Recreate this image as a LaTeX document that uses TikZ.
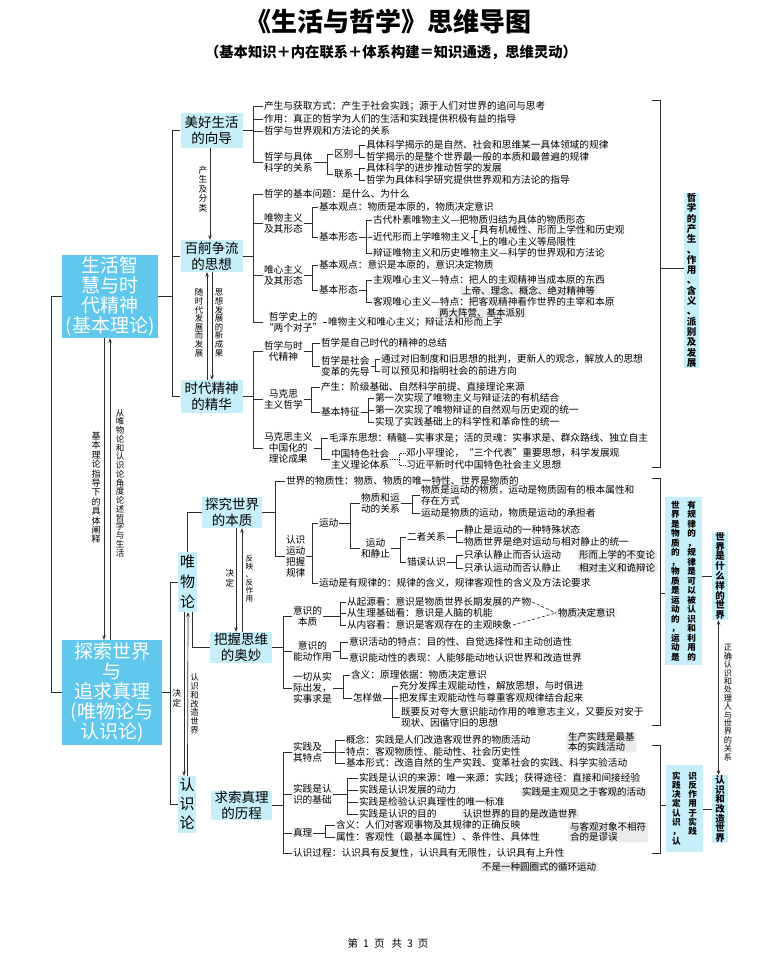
\documentclass[tikz,border=0pt]{standalone}
\usepackage{fontspec}
\setmainfont{Noto Sans CJK SC}
\usetikzlibrary{calc,arrows.meta}
\definecolor{lb}{RGB}{198,239,250}
\definecolor{mb}{RGB}{95,200,236}
\definecolor{ink}{RGB}{45,45,45}
\newcommand\fs{\fontsize{9.7}{10.6}\selectfont}
\makeatletter
\newcommand\vt[2]{\vtop{\offinterlineskip\@tfor\ch:=#2\do{\vbox to #1{\vss\hbox to 1em{\hss\vrule height .86em depth .14em width 0pt\ch\hss}\vss}}}}
\makeatother
\newcommand\fork[4][]{\foreach \cc in {#4}{\draw[ln,#1] let \p1=(#2.east) in (\p1) -- (#3pt,\y1) |- (\cc.west);}}
\begin{document}
\begin{tikzpicture}[x=1pt,y=-1pt,
 ln/.style={draw=ink,line width=0.7pt},
 arr/.style={ln,-{Stealth[length=4.5pt,width=3.5pt]}},
 arrr/.style={ln,{Stealth[length=4.5pt,width=3.5pt]}-{Stealth[length=4.5pt,width=3.5pt]}},
 tx/.style={anchor=west,inner sep=0.8pt,font=\fs},
 ml/.style={tx,align=center,font=\fontsize{9.7}{11}\selectfont},
 nt/.style={anchor=west,fill=gray!15,rounded corners=2pt,inner xsep=2pt,inner ysep=0.6pt,align=left,font=\fontsize{9.5}{10.5}\selectfont},
 bx/.style={fill=lb,align=center,font=\fontsize{13.5}{15.5}\selectfont,inner sep=0pt,minimum width=62pt,minimum height=32pt},
 bb/.style={fill=mb,text=white,align=center,font=\fontsize{19}{20}\selectfont,inner sep=0pt},
 vb/.style={fill=lb,inner sep=0pt},
 rvb/.style={vb,font=\fontsize{9.5}{9.5}\selectfont\bfseries},
 vlab/.style={inner sep=0pt,font=\fontsize{8.6}{9}\selectfont}]
\useasboundingbox (0,0) rectangle (776,966);
\fill[white] (0,0) rectangle (776,966);

% titles
\node[font=\fontsize{26}{28}\selectfont\bfseries] (title) at (388,22) {《生活与哲学》思维导图};
\node[font=\fontsize{14.3}{16}\selectfont\bfseries] (sub) at (391,52) {（基本知识＋内在联系＋体系构建＝知识通透，思维灵动）};
\node[font=\fontsize{10.5}{12}\selectfont] (foot) at (388,943) {第\hspace{5pt}1\hspace{5pt}页\hspace{7pt}共\hspace{5pt}3\hspace{5pt}页};

% big boxes
\node[bb,minimum width=96pt,minimum height=83pt] (L1) at (110,296.5) {生活智\\慧与时\\代精神\\(基本理论)};
\node[bb,minimum width=100pt,minimum height=105pt] (L2) at (112,692.5) {探索世界\\与\\追求真理\\(唯物论与\\认识论)};

% level-2 boxes
\node[bx,minimum height=35pt] (A) at (211.5,130.5) {美好生活\\的向导};
\node[bx] (B) at (211.5,256) {百舸争流\\的思想};
\node[bx,minimum height=33pt] (C) at (211.5,396.5) {时代精神\\的精华};
\node[bx,minimum width=60pt,minimum height=31pt] (D) at (232,512.5) {探究世界\\的本质};
\node[bx,minimum height=31pt] (E) at (241,647.5) {把握思维\\的奥妙};
\node[bx,minimum width=61pt,minimum height=29pt] (F) at (241.5,805.5) {求索真理\\的历程};
\node[vb,font=\fontsize{15}{16}\selectfont,minimum width=19pt,minimum height=60pt] (W) at (187.5,582) {\vt{20pt}{唯物论}};
\node[vb,font=\fontsize{15}{16}\selectfont,minimum width=18pt,minimum height=57pt] (R) at (187,804.5) {\vt{19pt}{认识论}};

% left connections
\fork{L1}{172}{A,B,C}
\fork{L2}{170}{W,R}
\draw[ln] (L1.west) -- ++(-10,0) |- (L2.west);
\draw[arr] ([xshift=-6pt]L1.south) -- ([xshift=-8pt]L2.north);
\draw[arr] ([xshift=-2pt]L2.north) -- ([xshift=0pt]L1.south);
\node[vlab,font=\fontsize{9}{9}\selectfont] (lb1) at (96,488) {\vt{9.4pt}{基本理论指导下的具体阐释}};
\node[vlab,font=\fontsize{8.5}{9}\selectfont] (lb2) at (120,483) {\vt{8.75pt}{从唯物论和认识论角度论述哲学与生活}};

\draw[arr] ([xshift=-1.5pt]A.south) -- ([xshift=-1.5pt]B.north);
\node[vlab] (lb3) at (203,189) {\vt{9.5pt}{产生及分类}};
\draw[arr] ([xshift=-4.5pt]C.north) -- ([xshift=-4.5pt]B.south);
\draw[arr] ([xshift=0.5pt]B.south) -- ([xshift=0.5pt]C.north);
\node[vlab,font=\fontsize{8.4}{9}\selectfont] (lb4) at (199,323) {\vt{8.6pt}{随时代发展而发展}};
\node[vlab,font=\fontsize{8.4}{9}\selectfont] (lb5) at (219,323) {\vt{8.6pt}{思想发展的新成果}};

\draw[arr] ([xshift=-3.5pt]W.south) -- ([xshift=-3pt]R.north);
\draw[arr] ([xshift=0.5pt]R.north) -- ([xshift=0.5pt]W.south);
\draw[ln] ([xshift=4.5pt]W.south) |- (E.west);
\draw[ln] (W.north) |- (D.west);
\node[vlab] (lb6) at (177,698) {\vt{10pt}{决定}};
\node[vlab,font=\fontsize{8.4}{9}\selectfont] (lb7) at (194.5,704) {\vt{8.7pt}{认识和改造世界}};

\draw[arr] ([xshift=4pt]D.south) -- ([xshift=-5pt]E.north);
\draw[arr] ([xshift=1pt]E.north) -- ([xshift=10pt]D.south);
\node[vlab] (lb8) at (230,578) {\vt{10pt}{决定}};
\node[vlab,font=\fontsize{7.6}{8}\selectfont] (lb9) at (249.5,579) {\vt{7.9pt}{反映、反作用}};

% ===== Section A
\node[tx] (a1) at (263,106) {产生与获取方式：产生于社会实践；源于人们对世界的追问与思考};
\node[tx] (a2) at (263,119) {作用：真正的哲学为人们的生活和实践提供积极有益的指导};
\node[tx] (a3) at (263,131) {哲学与世界观和方法论的关系};
\node[ml] (a4) at (263,162) {哲学与具体\\科学的关系};
\node[tx] (a41) at (333,154) {区别};
\node[tx] (a42) at (333,174) {联系};
\node[tx] (a411) at (365,145) {具体科学揭示的是自然、社会和思维某一具体领域的规律};
\node[tx] (a412) at (365,157) {哲学揭示的是整个世界最一般的本质和最普遍的规律};
\node[tx] (a421) at (365,168) {具体科学的进步推动哲学的发展};
\node[tx] (a422) at (365,180) {哲学为具体科学研究提供世界观和方法论的指导};
\fork{A}{253}{a1,a2,a3,a4}
\fork{a4}{327}{a41,a42}
\fork{a41}{359}{a411,a412}
\fork{a42}{359}{a421,a422}

% ===== Section B
\node[tx] (b1) at (263,194) {哲学的基本问题：是什么、为什么};
\node[ml] (b2) at (263,223) {唯物主义\\及其形态};
\node[tx] (b21) at (318,207) {基本观点：物质是本原的，物质决定意识};
\node[tx] (b22) at (318,237) {基本形态};
\node[tx] (b221) at (372,220) {古代朴素唯物主义—把物质归结为具体的物质形态};
\node[tx] (b222) at (372,237) {近代形而上学唯物主义};
\node[tx] (b2221) at (478,230) {具有机械性、形而上学性和历史观};
\node[tx] (b2222) at (478,242) {上的唯心主义等局限性};
\node[tx] (b223) at (372,253) {辩证唯物主义和历史唯物主义—科学的世界观和方法论};
\node[ml] (b3) at (263,275) {唯心主义\\及其形态};
\node[tx] (b31) at (318,265) {基本观点：意识是本原的，意识决定物质};
\node[tx] (b32) at (318,290) {基本形态};
\node[tx] (b321) at (372,280) {主观唯心主义—特点：把人的主观精神当成本原的东西};
\node[tx] (b322) at (372,302) {客观唯心主义—特点：把客观精神看作世界的主宰和本原};
\node[ml] (b4) at (263,322) {哲学史上的\\“两个对子”};
\node[tx] (b41) at (327,322) {唯物主义和唯心主义；辩证法和形而上学};
\node[nt] (n0) at (460,290.5) {上帝、理念、概念、绝对精神等};
\node[nt] (n00) at (437,312.5) {两大阵营、基本派别};
\fork{B}{253}{b1,b2,b3,b4}
\fork{b2}{312}{b21,b22}
\fork{b22}{366}{b221,b222,b223}
\fork{b222}{474}{b2221,b2222}
\fork{b3}{312}{b31,b32}
\fork{b32}{366}{b321,b322}
\draw[ln] (b4.east) -- (b41.west);

% ===== Section C
\node[ml] (c1) at (263,351) {哲学与时\\代精神};
\node[tx] (c11) at (320,343) {哲学是自己时代的精神的总结};
\node[ml] (c12) at (320,366) {哲学是社会\\变革的先导};
\node[tx] (c121) at (380,359) {通过对旧制度和旧思想的批判，更新人的观念，解放人的思想};
\node[tx] (c122) at (380,371) {可以预见和指明社会的前进方向};
\node[ml] (c2) at (263,399) {马克思\\主义哲学};
\node[tx] (c21) at (320,387) {产生：阶级基础、自然科学前提、直接理论来源};
\node[tx] (c22) at (320,412) {基本特征};
\node[tx] (c221) at (374,398) {第一次实现了唯物主义与辩证法的有机结合};
\node[tx] (c222) at (374,410) {第一次实现了唯物辩证的自然观与历史观的统一};
\node[tx] (c223) at (374,422) {实现了实践基础上的科学性和革命性的统一};
\node[ml] (c3) at (263,448) {马克思主义\\中国化的\\理论成果};
\node[tx] (c31) at (328,438) {毛泽东思想：精髓—实事求是；活的灵魂：实事求是、群众路线、独立自主};
\node[ml] (c32) at (330,459) {中国特色社会\\主义理论体系};
\node[tx] (c321) at (405,453) {邓小平理论，“三个代表”重要思想，科学发展观};
\node[tx] (c322) at (405,465) {习近平新时代中国特色社会主义思想};
\fork{C}{253}{c1,c2,c3}
\fork{c1}{312}{c11,c12}
\fork{c12}{375}{c121,c122}
\fork{c2}{311}{c21,c22}
\fork{c22}{368}{c221,c222,c223}
\fork{c3}{321}{c31,c32}
\fork[densely dotted]{c32}{399}{c321,c322}

% ===== Section D
\node[tx] (d1) at (285,481) {世界的物质性：物质、物质的唯一特性、世界是物质的};
\node[ml] (d2) at (285,556) {认识\\运动\\把握\\规律};
\node[tx] (d21) at (318,523) {运动};
\node[ml] (d211) at (360,503) {物质和运\\动的关系};
\node[tx,align=left] (d2111) at (420,495.5) {物质是运动的物质，运动是物质固有的根本属性和\\存在方式};
\node[tx] (d2112) at (420,513) {运动是物质的运动，物质是运动的承担者};
\node[ml] (d212) at (360,548) {运动\\和静止};
\node[tx] (d2121) at (406,537) {二者关系};
\node[tx] (d2122) at (406,562) {错误认识};
\node[tx] (d21211) at (463,530) {静止是运动的一种特殊状态};
\node[tx] (d21212) at (463,542) {物质世界是绝对运动与相对静止的统一};
\node[tx] (d21221) at (463,555) {只承认静止而否认运动};
\node[tx] (d21222) at (463,568) {只承认运动而否认静止};
\node[nt] (n1) at (577,555) {形而上学的不变论};
\node[nt] (n2) at (577,568) {相对主义和诡辩论};
\node[tx] (d22) at (318,583) {运动是有规律的：规律的含义，规律客观性的含义及方法论要求};
\fork{D}{275}{d1,d2}
\fork{d2}{312}{d21,d22}
\fork{d21}{350}{d211,d212}
\fork{d211}{412}{d2111,d2112}
\fork{d212}{400}{d2121,d2122}
\fork{d2121}{456}{d21211,d21212}
\fork{d2122}{456}{d21221,d21222}

% ===== Section E
\node[ml] (e1) at (292,616) {意识的\\本质};
\node[tx] (e11) at (346,602) {从起源看：意识是物质世界长期发展的产物};
\node[tx] (e12) at (346,613) {从生理基础看：意识是人脑的机能};
\node[tx] (e13) at (346,625) {从内容看：意识是客观存在的主观映象};
\node[nt] (n3) at (556,613) {物质决定意识};
\draw[ln,densely dashed] (e11.east) -- (n3.west);
\draw[ln,densely dashed] (e13.east) -- (n3.west);
\node[ml] (e2) at (292,651) {意识的\\能动作用};
\node[tx] (e21) at (348,642) {意识活动的特点：目的性、自觉选择性和主动创造性};
\node[tx] (e22) at (348,658) {意识能动性的表现：人能够能动地认识世界和改造世界};
\node[ml] (e3) at (292,688) {一切从实\\际出发，\\实事求是};
\node[tx] (e31) at (350,675) {含义：原理依据：物质决定意识};
\node[tx] (e32) at (352,698) {怎样做};
\node[tx] (e321) at (398,686) {充分发挥主观能动性，解放思想，与时俱进};
\node[tx] (e322) at (398,698) {把发挥主观能动性与尊重客观规律结合起来};
\node[tx,align=left] (e323) at (400,717) {既要反对夸大意识能动作用的唯意志主义，又要反对安于\\现状、因循守旧的思想};
\fork{E}{283}{e1,e2,e3}
\fork{e1}{340}{e11,e12,e13}
\fork{e2}{340}{e21,e22}
\fork{e3}{343}{e31,e32}
\fork{e32}{392}{e321,e322,e323}

% ===== Section F
\node[ml] (f1) at (292,752) {实践及\\其特点};
\node[tx] (f11) at (345,740) {概念：实践是人们改造客观世界的物质活动};
\node[tx] (f12) at (345,752) {特点：客观物质性、能动性、社会历史性};
\node[tx] (f13) at (345,763) {基本形式：改造自然的生产实践、变革社会的实践、科学实验活动};
\node[nt] (n4) at (566,742) {生产实践是最基\\本的实践活动};
\node[ml] (f2) at (292,794) {实践是认\\识的基础};
\node[tx] (f21) at (358,778) {实践是认识的来源：唯一来源：实践；获得途径：直接和间接经验};
\node[tx] (f22) at (358,790) {实践是认识发展的动力};
\node[tx] (f23) at (358,802) {实践是检验认识真理性的唯一标准};
\node[tx] (f24) at (358,814) {实践是认识的目的};
\node[nt] (n5) at (520,792) {实践是主观见之于客观的活动};
\node[nt] (n6) at (461,814) {认识世界的目的是改造世界};
\node[tx] (f3) at (292,833) {真理};
\node[tx] (f31) at (335,825) {含义：人们对客观事物及其规律的正确反映};
\node[tx] (f32) at (335,837) {属性：客观性（最基本属性）、条件性、具体性};
\node[nt] (n7) at (568,832) {与客观对象不相符\\合的是谬误};
\node[tx] (f4) at (292,853) {认识过程：认识具有反复性，认识具有无限性，认识具有上升性};
\node[nt] (n8) at (480,867) {不是一种圆圈式的循环运动};
\fork{F}{283}{f1,f2,f3,f4}
\fork{f1}{335}{f11,f12,f13}
\fork{f2}{347}{f21,f22,f23,f24}
\fork{f3}{325}{f31,f32}

% ===== right side
\draw[ln] (652,100) -- (660,100) -- (660,467) -- (652,467);
\draw[ln] (652,478) -- (660,478) -- (660,725) -- (652,725);
\draw[ln] (652,745) -- (660,745) -- (660,853) -- (652,853);
\node[rvb,minimum width=15pt] (P) at (691.5,280.5) {\vt{10.3pt}{哲学的产生、作用、含义、派别及发展}};
\node[rvb,font=\fontsize{8.6}{9}\selectfont\bfseries,inner xsep=6pt,inner ysep=3.3pt] (Q) at (683.5,581) {\vt{9.5pt}{世界是物质的，物质是运动的，运动是}\kern7.5pt\vt{9.5pt}{有规律的，规律是可以被认识和利用的}};
\node[rvb,minimum width=16pt] (S) at (720,576) {\vt{9.8pt}{世界是什么样的世界}};
\node[rvb,font=\fontsize{8.6}{9}\selectfont\bfseries,inner xsep=6pt,inner ysep=6.3pt] (T) at (684.5,808.5) {\vt{9.3pt}{实践决定认识，认}\kern7.5pt\vt{9.3pt}{识反作用于实践}};
\node[rvb,minimum width=16pt] (U) at (720,809) {\vt{9.7pt}{认识和改造世界}};
\coordinate (k1) at (660,268);
\coordinate (k2) at (660,593);
\coordinate (k3) at (660,805);
\draw[ln] (k1) -- (k1 -| P.west);
\draw[ln] (k2) -- (k2 -| Q.west);
\draw[ln] (k3) -- (k3 -| T.west);
\draw[ln] (Q.east |- S.west) -- (S.west);
\draw[ln] (T.east |- U.west) -- (U.west);
\draw[arrr] ([xshift=-1.5pt]S.south) -- ([xshift=-1.5pt]U.north);
\node[vlab,font=\fontsize{8.2}{9}\selectfont] (lb10) at (728,702.5) {\vt{8.4pt}{正确认识和处理人与世界的关系}};
\end{tikzpicture}
\end{document}
